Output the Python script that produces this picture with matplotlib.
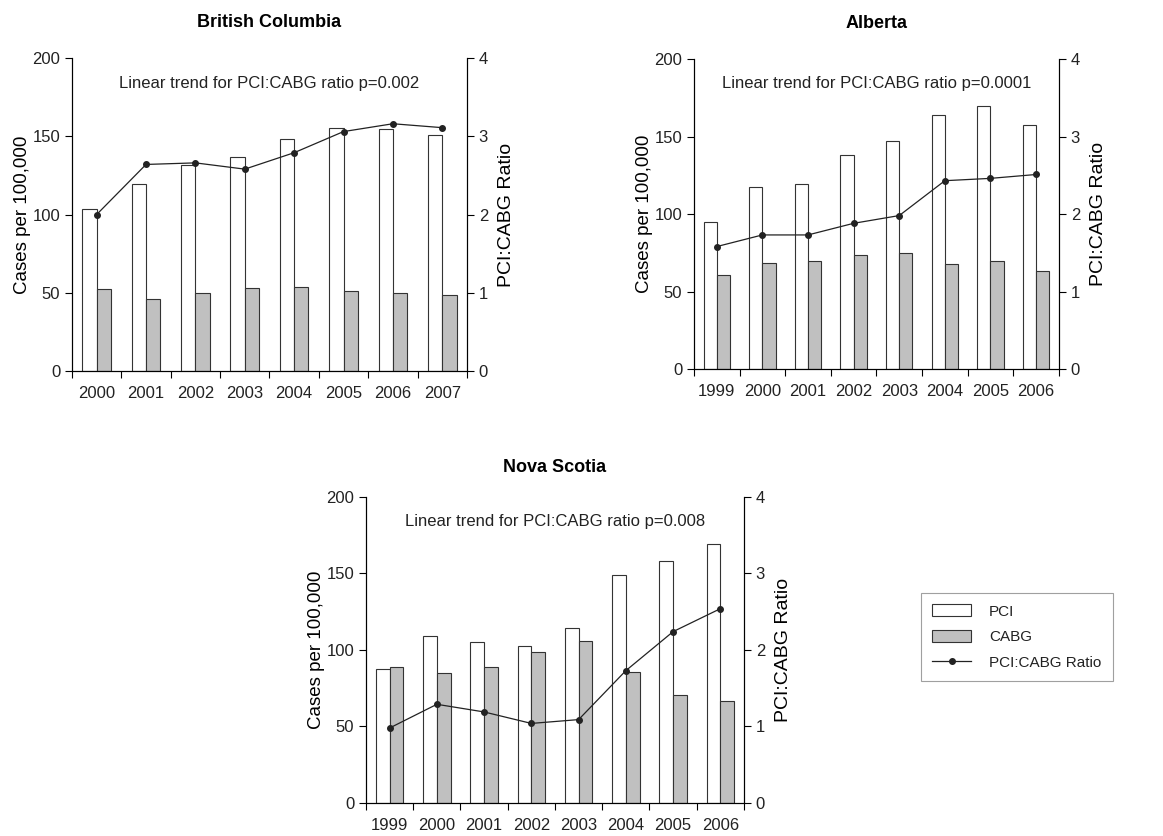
import matplotlib.pyplot as plt
import numpy as np
from matplotlib.lines import Line2D
from matplotlib.patches import Patch

plt.rcParams['font.family'] = ['Liberation Sans', 'DejaVu Sans']

# PCI / CABG rates (cases per 100,000) and the PCI:CABG ratio by province
bc_years = ['2000', '2001', '2002', '2003', '2004', '2005', '2006', '2007']
bc_pci = [103.5, 119.5, 131.5, 136.5, 148, 155.3, 154.6, 150.7]
bc_cabg = [52.3, 45.8, 49.8, 53.3, 53.5, 51.3, 49.6, 48.6]
bc_ratio = [2.0, 2.64, 2.66, 2.58, 2.79, 3.06, 3.16, 3.11]

ab_years = ['1999', '2000', '2001', '2002', '2003', '2004', '2005', '2006']
ab_pci = [95, 117.2, 119.1, 137.8, 147.3, 163.7, 169.9, 157.2]
ab_cabg = [60.4, 68.6, 69.7, 73.3, 74.6, 67.5, 69.7, 63.4]
ab_ratio = [1.58, 1.73, 1.73, 1.88, 1.98, 2.43, 2.46, 2.51]

ns_years = ['1999', '2000', '2001', '2002', '2003', '2004', '2005', '2006']
ns_pci = [87.4, 109.4, 105.2, 102.6, 114.4, 148.8, 158.4, 169.5]
ns_cabg = [89.1, 85.2, 89.1, 98.7, 105.9, 85.8, 70.8, 66.9]
ns_ratio = [0.98, 1.29, 1.19, 1.04, 1.09, 1.73, 2.24, 2.54]

GREY = '#c0c0c0'
EDGE = '#333333'
LINE = '#222222'


def draw_panel(ax, title, years, pci, cabg, ratio, note, title_pad):
    x = np.arange(len(years))
    w = 0.29
    ax.bar(x - w / 2, pci, w, color='white', edgecolor=EDGE, linewidth=0.8)
    ax.bar(x + w / 2, cabg, w, color=GREY, edgecolor=EDGE, linewidth=0.8)
    ax.set_xlim(-0.5, len(years) - 0.5)
    ax.set_ylim(0, 200)
    ax.set_yticks([0, 50, 100, 150, 200])
    # tick marks sit between categories, year labels at the centres
    ax.set_xticks(np.arange(-0.5, len(years), 1.0))
    ax.set_xticklabels([])
    ax.set_xticks(x, minor=True)
    ax.set_xticklabels(years, minor=True)
    ax.tick_params(axis='x', which='minor', length=0, pad=11, labelsize=12,
                   labelcolor='#222222')
    ax.tick_params(axis='x', which='major', length=5, width=0.8)
    ax.tick_params(axis='y', length=5, width=0.8, labelsize=12,
                   labelcolor='#222222')
    ax.set_ylabel('Cases per 100,000', fontsize=13.5, labelpad=1)
    ax.spines['top'].set_visible(False)
    for s in ('left', 'bottom'):
        ax.spines[s].set_linewidth(0.8)
    ax.set_title(title, fontsize=13, fontweight='bold', pad=title_pad)
    ax.text(0.5, 0.92, note, transform=ax.transAxes, ha='center', va='center',
            fontsize=12, color='#222222')

    ax2 = ax.twinx()
    ax2.plot(x, ratio, color=LINE, linewidth=0.9, marker='o', markersize=4)
    ax2.set_ylim(0, 4)
    ax2.set_yticks([0, 1, 2, 3, 4])
    ax2.tick_params(axis='y', length=5, width=0.8, labelsize=12,
                    labelcolor='#222222')
    ax2.set_ylabel('PCI:CABG Ratio', fontsize=14, labelpad=7)
    ax2.spines['top'].set_visible(False)
    ax2.spines['right'].set_linewidth(0.8)
    return ax2


fig = plt.figure(figsize=(11.63, 8.36), dpi=100)

ax_bc = fig.add_axes([0.0619, 0.5562, 0.3396, 0.3744])
draw_panel(ax_bc, 'British Columbia', bc_years, bc_pci, bc_cabg, bc_ratio,
           'Linear trend for PCI:CABG ratio p=0.002', 22)

ax_ab = fig.add_axes([0.5967, 0.5586, 0.3138, 0.3708])
draw_panel(ax_ab, 'Alberta', ab_years, ab_pci, ab_cabg, ab_ratio,
           'Linear trend for PCI:CABG ratio p=0.0001', 22)

ax_ns = fig.add_axes([0.3147, 0.0395, 0.3250, 0.3660])
draw_panel(ax_ns, 'Nova Scotia', ns_years, ns_pci, ns_cabg, ns_ratio,
           'Linear trend for PCI:CABG ratio p=0.008', 18)

handles = [
    Patch(facecolor='white', edgecolor=EDGE, linewidth=0.8),
    Patch(facecolor=GREY, edgecolor=EDGE, linewidth=0.8),
    Line2D([], [], color=LINE, linewidth=0.9, marker='o', markersize=4),
]
leg = fig.legend(handles, ['PCI', 'CABG', 'PCI:CABG Ratio'],
                 loc='upper left', bbox_to_anchor=(0.7919, 0.2907),
                 borderaxespad=0, fontsize=11, frameon=True, fancybox=False,
                 edgecolor='#888888', handlelength=2.5, handleheight=0.8,
                 handletextpad=1.2, borderpad=0.75, labelspacing=0.75)
leg.get_frame().set_linewidth(0.8)
for t in leg.get_texts():
    t.set_color('#222222')

fig.savefig('out.png', dpi=100)
plt.close(fig)
